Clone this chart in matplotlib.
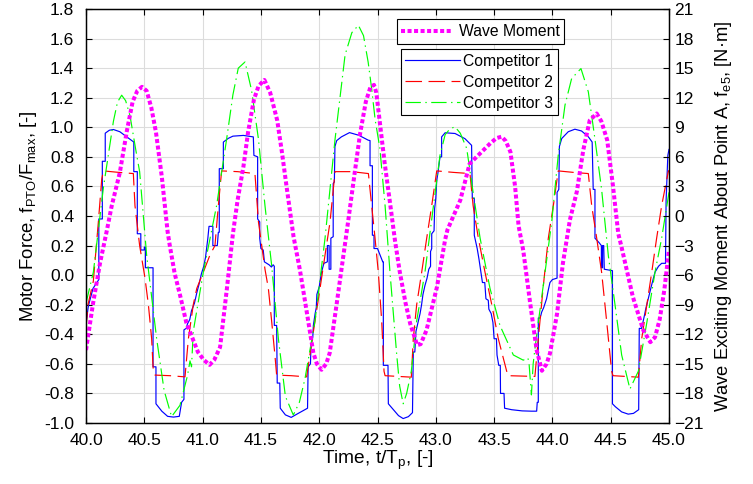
import numpy as np
import matplotlib
matplotlib.use('Agg')
import matplotlib.pyplot as plt
from matplotlib.ticker import FormatStrFormatter

plt.rcParams['font.family'] = ['Liberation Sans', 'DejaVu Sans']
plt.rcParams['mathtext.fontset'] = 'custom'
plt.rcParams['mathtext.rm'] = 'Liberation Sans'
plt.rcParams['mathtext.default'] = 'regular'

# Wave moment (right axis, N*m)
t_wave = [40.00, 40.06, 40.12, 40.18, 40.22, 40.29, 40.35, 40.40, 40.44, 40.48,
          40.52, 40.56, 40.60, 40.65, 40.70, 40.72, 40.76, 40.81, 40.86, 40.92,
          40.96, 41.01, 41.06, 41.10, 41.15, 41.21, 41.26, 41.30, 41.35, 41.39,
          41.44, 41.48, 41.53, 41.58, 41.64, 41.68, 41.72, 41.78, 41.835, 41.89,
          41.95, 41.98, 42.02, 42.06, 42.09, 42.15, 42.21, 42.25, 42.30, 42.35,
          42.40, 42.44, 42.47, 42.49, 42.52, 42.56, 42.61, 42.65, 42.69, 42.74,
          42.78, 42.84, 42.87, 42.92, 43.01, 43.08, 43.10, 43.21, 43.29, 43.35,
          43.41, 43.47, 43.52, 43.565, 43.60, 43.64, 43.68, 43.71, 43.75, 43.81,
          43.865, 43.91, 43.95, 43.98, 44.04, 44.09, 44.15, 44.21, 44.265, 44.32,
          44.38, 44.42, 44.47, 44.52, 44.565, 44.59, 44.69, 44.78, 44.84, 44.88,
          44.92, 44.96, 45.00]
wave_moment = [-13.6, -8.9, -4.8, -1.4, 1.0, 4.4, 8.6, 11.6, 12.7, 13.1,
               12.7, 11.0, 8.5, 4.0, -1.6, -3.1, -5.8, -8.2, -10.8, -12.6,
               -13.8, -14.6, -15.1, -14.6, -13.3, -7.2, -1.8, 1.6, 5.0, 8.5,
               11.8, 13.2, 13.8, 12.5, 9.7, 6.5, 3.0, -2.1, -5.5, -9.5,
               -13.9, -15.0, -15.6, -15.0, -13.9, -8.9, -3.8, -0.4, 4.0, 8.3,
               11.6, 13.1, 13.3, 12.5, 9.5, 5.5, 1.1, -2.5, -5.6, -8.8,
               -10.9, -13.1, -13.0, -11.6, -7.2, -2.4, -1.4, 1.6, 5.3, 6.0,
               6.7, 7.4, 7.9, 8.05, 7.6, 6.5, 3.0, -1.0, -3.5, -8.9,
               -13.6, -15.7, -15.0, -13.9, -9.9, -4.8, -0.4, 2.5, 6.7, 9.7,
               10.4, 9.6, 7.7, 3.0, -1.8, -3.0, -8.2, -11.6, -12.8, -12.3,
               -10.5, -7.5, -3.4]

# Competitor 1 (stepwise force)
t_c1 = [40.00, 40.02, 40.06, 40.11, 40.11, 40.14, 40.14, 40.165, 40.165, 40.20,
        40.235, 40.29, 40.35, 40.41, 40.41, 40.44, 40.44, 40.47, 40.47, 40.50,
        40.50, 40.51, 40.51, 40.575, 40.575, 40.60, 40.60, 40.65, 40.70, 40.75,
        40.80, 40.82, 40.84, 40.84, 40.86, 40.87, 40.89, 40.905, 40.93, 40.95,
        40.97, 40.99, 41.01, 41.025, 41.045, 41.055, 41.088, 41.088, 41.126, 41.135,
        41.143, 41.143, 41.178, 41.178, 41.22, 41.26, 41.35, 41.435, 41.44, 41.472,
        41.472, 41.49, 41.49, 41.50, 41.52, 41.53, 41.55, 41.57, 41.59, 41.605,
        41.615, 41.615, 41.635, 41.64, 41.662, 41.666, 41.71, 41.76, 41.82, 41.90,
        41.905, 41.925, 41.93, 41.945, 41.95, 41.965, 41.975, 41.98, 42.00, 42.02,
        42.04, 42.07, 42.07, 42.085, 42.085, 42.10, 42.10, 42.12, 42.12, 42.13,
        42.135, 42.15, 42.19, 42.26, 42.34, 42.42, 42.436, 42.436, 42.456, 42.456,
        42.47, 42.47, 42.50, 42.51, 42.52, 42.53, 42.545, 42.55, 42.55, 42.59,
        42.593, 42.636, 42.68, 42.72, 42.765, 42.80, 42.807, 42.82, 42.83, 42.85,
        42.865, 42.878, 42.89, 42.907, 42.925, 42.94, 42.955, 42.955, 42.965, 42.965,
        42.985, 42.99, 43.00, 43.008, 43.02, 43.036, 43.05, 43.05, 43.08, 43.165,
        43.25, 43.307, 43.313, 43.33, 43.33, 43.355, 43.37, 43.387, 43.40, 43.42,
        43.43, 43.45, 43.455, 43.475, 43.49, 43.50, 43.52, 43.525, 43.54, 43.553,
        43.555, 43.585, 43.59, 43.65, 43.74, 43.82, 43.865, 43.87, 43.879, 43.879,
        43.895, 43.908, 43.925, 43.95, 43.965, 43.979, 44.00, 44.04, 44.04, 44.055,
        44.06, 44.08, 44.136, 44.193, 44.25, 44.308, 44.341, 44.35, 44.365, 44.365,
        44.40, 44.42, 44.42, 44.43, 44.43, 44.44, 44.445, 44.515, 44.515, 44.54,
        44.594, 44.65, 44.695, 44.74, 44.745, 44.765, 44.79, 44.80, 44.822, 44.85,
        44.88, 44.91, 44.937, 44.97, 44.975, 44.99, 45.00]
force_c1 = [-0.33, -0.21, -0.09, -0.03, 0.38, 0.38, 0.77, 0.77, 0.96, 0.98,
            0.985, 0.97, 0.935, 0.90, 0.70, 0.70, 0.28, 0.28, 0.17, 0.17,
            0.19, 0.19, 0.05, 0.05, -0.62, -0.62, -0.87, -0.92, -0.955, -0.96,
            -0.955, -0.86, -0.84, -0.37, -0.36, -0.33, -0.30, -0.24, -0.19, -0.12,
            -0.06, 0.01, 0.06, 0.12, 0.25, 0.33, 0.33, 0.20, 0.20, 0.29,
            0.29, 0.72, 0.72, 0.90, 0.925, 0.94, 0.945, 0.935, 0.81, 0.80,
            0.38, 0.36, 0.25, 0.18, 0.17, 0.09, 0.08, 0.07, 0.055, 0.07,
            0.06, -0.34, -0.34, -0.73, -0.73, -0.90, -0.945, -0.962, -0.935, -0.90,
            -0.62, -0.60, -0.47, -0.42, -0.34, -0.26, -0.22, -0.13, -0.08, 0.02,
            0.08, 0.09, 0.20, 0.20, 0.04, 0.04, 0.25, 0.26, 0.62, 0.63,
            0.87, 0.91, 0.935, 0.964, 0.946, 0.913, 0.91, 0.74, 0.74, 0.27,
            0.27, 0.18, 0.18, 0.16, 0.14, 0.12, 0.09, 0.09, -0.61, -0.61,
            -0.87, -0.91, -0.95, -0.97, -0.957, -0.93, -0.52, -0.52, -0.38, -0.31,
            -0.26, -0.20, -0.13, -0.07, -0.02, 0.04, 0.06, 0.16, 0.18, 0.28,
            0.30, 0.45, 0.52, 0.64, 0.70, 0.80, 0.80, 0.935, 0.963, 0.958,
            0.923, 0.878, 0.52, 0.52, 0.27, 0.18, 0.11, 0.02, -0.05, -0.05,
            -0.16, -0.17, -0.23, -0.26, -0.32, -0.43, -0.43, -0.54, -0.61, -0.61,
            -0.80, -0.80, -0.90, -0.91, -0.918, -0.92, -0.92, -0.86, -0.86, -0.29,
            -0.29, -0.25, -0.22, -0.16, -0.10, -0.05, -0.03, -0.02, 0.56, 0.58,
            0.87, 0.924, 0.97, 0.987, 0.975, 0.936, 0.90, 0.58, 0.58, 0.25,
            0.22, 0.20, 0.05, 0.05, 0.20, 0.20, 0.04, 0.03, -0.87, -0.89,
            -0.925, -0.94, -0.935, -0.91, -0.36, -0.36, -0.27, -0.23, -0.16, -0.07,
            0.02, 0.06, 0.08, 0.08, 0.50, 0.81, 0.85]

# Competitor 2 (saturated force)
t_c2 = [40.00, 40.017, 40.063, 40.106, 40.135, 40.149, 40.28, 40.406, 40.42, 40.46,
        40.506, 40.535, 40.563, 40.577, 40.592, 40.72, 40.849, 40.878, 40.92, 40.95,
        41.006, 41.063, 41.106, 41.135, 41.163, 41.30, 41.449, 41.479, 41.507, 41.535,
        41.564, 41.592, 41.62, 41.635, 41.76, 41.892, 41.92, 41.964, 42.007, 42.05,
        42.093, 42.136, 42.28, 42.422, 42.45, 42.479, 42.507, 42.536, 42.556, 42.565,
        42.68, 42.79, 42.807, 42.836, 42.879, 42.922, 42.965, 43.008, 43.15, 43.293,
        43.32, 43.365, 43.422, 43.48, 43.536, 43.608, 43.62, 43.85, 43.879, 43.92,
        43.965, 44.008, 44.05, 44.18, 44.308, 44.337, 44.38, 44.422, 44.465, 44.508,
        44.52, 44.737, 44.766, 44.81, 44.852, 44.894, 44.937, 44.994, 45.00]
force_c2 = [-0.36, -0.20, -0.04, 0.36, 0.65, 0.705, 0.695, 0.687, 0.47, 0.20,
            -0.02, -0.20, -0.43, -0.65, -0.676, -0.68, -0.688, -0.43, -0.20, -0.09,
            0.02, 0.136, 0.20, 0.47, 0.705, 0.70, 0.687, 0.36, 0.20, 0.04,
            -0.09, -0.31, -0.54, -0.676, -0.68, -0.688, -0.54, -0.31, -0.09, 0.136,
            0.36, 0.70, 0.70, 0.687, 0.47, 0.25, 0.02, -0.31, -0.65, -0.68,
            -0.685, -0.69, -0.43, -0.20, 0.02, 0.25, 0.47, 0.705, 0.695, 0.687,
            0.47, 0.25, 0.02, -0.20, -0.43, -0.65, -0.68, -0.685, -0.43, -0.09,
            0.25, 0.47, 0.705, 0.695, 0.687, 0.47, 0.25, 0.02, -0.31, -0.65,
            -0.68, -0.69, -0.43, -0.20, 0.02, 0.25, 0.47, 0.70, 0.71]

# Competitor 3 (smooth force)
t_c3 = [40.00, 40.063, 40.149, 40.235, 40.27, 40.306, 40.34, 40.377, 40.435, 40.46,
        40.52, 40.606, 40.67, 40.734, 40.806, 40.87, 40.892, 40.905, 40.92, 41.006,
        41.12, 41.206, 41.26, 41.306, 41.364, 41.42, 41.479, 41.535, 41.592, 41.65,
        41.71, 41.778, 41.83, 41.878, 41.964, 42.05, 42.136, 42.222, 42.28, 42.336,
        42.38, 42.42, 42.45, 42.48, 42.52, 42.565, 42.607, 42.665, 42.69, 42.72,
        42.75, 42.79, 42.836, 42.907, 42.98, 43.036, 43.08, 43.122, 43.165, 43.21,
        43.265, 43.32, 43.38, 43.465, 43.55, 43.665, 43.75, 43.79, 43.80, 43.82,
        43.835, 43.85, 43.879, 43.937, 43.994, 44.05, 44.108, 44.165, 44.245, 44.308,
        44.365, 44.422, 44.48, 44.537, 44.594, 44.665, 44.737, 44.81, 44.88, 44.937,
        45.00]
force_c3 = [-0.19, 0.02, 0.59, 1.04, 1.17, 1.217, 1.18, 1.08, 0.81, 0.70,
            0.136, -0.43, -0.78, -0.957, -0.88, -0.68, -0.58, -0.62, -0.38, 0.02,
            0.47, 0.92, 1.22, 1.40, 1.442, 1.25, 0.92, 0.47, 0.067, -0.43,
            -0.82, -0.946, -0.86, -0.70, -0.31, 0.25, 0.92, 1.49, 1.64, 1.69,
            1.62, 1.44, 1.26, 1.05, 0.86, 0.47, 0.02, -0.54, -0.75, -0.87,
            -0.80, -0.65, -0.31, 0.02, 0.47, 0.81, 0.95, 0.99, 1.003, 0.96,
            0.857, 0.56, 0.25, -0.09, -0.34, -0.54, -0.575, -0.56, -0.60, -0.81,
            -0.60, -0.50, -0.32, 0.02, 0.36, 0.81, 1.15, 1.33, 1.397, 1.24,
            0.92, 0.58, 0.13, -0.20, -0.54, -0.77, -0.65, -0.32, 0.02, 0.25,
            0.56]

xticks = [40.0, 40.5, 41.0, 41.5, 42.0, 42.5, 43.0, 43.5, 44.0, 44.5, 45.0]
left_ticks = [round(-1.0 + 0.2 * i, 1) + 0.0 for i in range(15)]
right_ticks = list(range(-21, 22, 3))

fig = plt.figure(figsize=(7.53, 4.84), dpi=100)
ax1 = fig.add_axes([86 / 753, 1 - 423 / 484, 583 / 753, 414 / 484])
ax2 = ax1.twinx()

# competitors on the left axis
l1, = ax1.plot(t_c1, force_c1, color='#0000ff', lw=0.85, label='Competitor 1')
l2, = ax1.plot(t_c2, force_c2, color='#ff0000', lw=0.85, dashes=[14, 5.5],
               label='Competitor 2')
l3, = ax1.plot(t_c3, force_c3, color='#00ff00', lw=0.85,
               dashes=[13, 3.8, 1.2, 3.8], label='Competitor 3')

# wave moment on the right axis
lw_, = ax2.plot(t_wave, wave_moment, color='#ff00ff', lw=2.9, dashes=[1, 0.62],
                label='Wave Moment')

ax1.set_xlim(40, 45)
ax1.set_ylim(-1, 1.8)
ax2.set_ylim(-21, 21)
ax1.set_xticks(xticks)
ax1.set_yticks(left_ticks)
ax2.set_yticks(right_ticks)
ax1.xaxis.set_major_formatter(FormatStrFormatter('%.1f'))
ax1.yaxis.set_major_formatter(FormatStrFormatter('%.1f'))

ax1.grid(True, color='#dcdcdc', lw=0.8)
ax1.set_axisbelow(True)

ax1.tick_params(axis='x', direction='in', top=True, length=4, labelsize=12.5, pad=7)
ax1.tick_params(axis='y', direction='in', length=4, labelsize=12.5, pad=8.5)
ax2.tick_params(axis='y', direction='in', length=4, labelsize=12.5, pad=4)

for sp in list(ax1.spines.values()) + list(ax2.spines.values()):
    sp.set_linewidth(0.9)

ax1.set_xlabel('Time, t/T$_p$, [-]', fontsize=13.8, labelpad=1)
ax1.set_ylabel('Motor Force, f$_{PTO}$/F$_{max}$, [-]', fontsize=13.3, labelpad=4)
ax2.set_ylabel('Wave Exciting Moment About Point A, f$_{e5}$, [N·m]', fontsize=13.2,
               labelpad=6)

leg1 = ax2.legend(handles=[lw_], loc='upper left',
                  bbox_to_anchor=(396.7 / 753, 1 - 19.3 / 484),
                  bbox_transform=fig.transFigure, borderaxespad=0,
                  fontsize=11.3, handlelength=3.2, handletextpad=0.45,
                  borderpad=0.3, fancybox=False, framealpha=1,
                  edgecolor='black')
leg1.get_frame().set_linewidth(0.8)
leg2 = ax2.legend(handles=[l1, l2, l3], loc='upper left',
                  bbox_to_anchor=(400.7 / 753, 1 - 49 / 484),
                  bbox_transform=fig.transFigure, borderaxespad=0,
                  fontsize=11.3, handlelength=3.45, handletextpad=0.25,
                  borderpad=0.3, labelspacing=0.38, fancybox=False,
                  framealpha=1, edgecolor='black')
leg2.get_frame().set_linewidth(0.8)
ax2.add_artist(leg1)

fig.savefig('out.png', dpi=100)
